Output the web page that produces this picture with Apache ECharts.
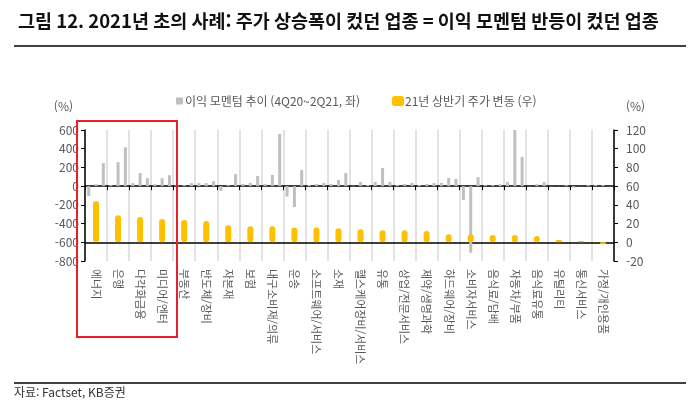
<!DOCTYPE html>
<html lang="ko">
<head>
<meta charset="UTF-8">
<title>그림 12</title>
<script src="https://cdn.jsdelivr.net/npm/echarts@6/dist/echarts.min.js"></script>
<style>
  html, body { margin: 0; padding: 0; background: #fff; }
  #main { width: 696px; height: 406px; }
</style>
</head>
<body>
<div id="main"></div>
<script>
// 업종
const categories = ['에너지', '은행', '다각화금융', '미디어/엔터', '부동산', '반도체/장비', '자본재', '보험',
  '내구소비재/의류', '운송', '소프트웨어/서비스', '소재', '헬스케어장비/서비스', '유통', '상업/전문서비스',
  '제약/생명과학', '하드웨어/장비', '소비자서비스', '음식료/담배', '자동차/부품', '음식료유통', '유틸리티',
  '통신서비스', '가정/개인용품'];

// 이익 모멘텀 추이 (좌, %) : 4Q20, 1Q21, 2Q21
const mom4Q20 = [-107, 11, 32, 21, 10, 32, -50, 23, 23, -112, 12, 23, 3, 45, 12, 12, 34, -149, 11, 43, 2, 2, -18, 11];
const mom1Q21 = [21, 256, 139, 85, 11, 32, 11, 34, 119, -224, 23, 66, 45, 194, 23, 23, 87, -712, 11, 600, 21, 2, 2, 11];
const mom2Q21 = [246, 416, 85, 117, 32, 53, 128, 108, 557, 172, 34, 140, 12, 45, 34, 34, 77, 96, 21, 312, 43, 11, 11, 2];

// 21년 상반기 주가 변동 (우, %)
const priceChg = [44, 29, 27, 24.9, 23.8, 22.7, 18.1, 17.1, 17.1, 15.9, 15.8, 15, 14, 12.9, 12.9, 12, 8.6, 8.5, 7.8, 7.8, 6.7, 2.5, 1.5, -2];

const leftTicks = [-800, 600, 200];
const rightTicks = [-20, 120, 20];

const FONT = '"Noto Sans CJK KR", "Noto Sans", sans-serif';
const GRAY = '#BFBFBF';
const YELLOW = '#FFC000';
const TXT = '#595959';

var myChart = echarts.init(document.getElementById('main'), null, { renderer: 'canvas' });

function grayBar(name, data) {
  return {
    name: name,
    type: 'bar',
    xAxisIndex: 0,
    yAxisIndex: 0,
    data: data,
    barWidth: 3,
    barGap: '144%',
    itemStyle: { color: GRAY },
    silent: true
  };
}

var option = {
  animation: false,
  textStyle: { fontFamily: FONT },
  title: {
    text: '그림 12. 2021년 초의 사례: 주가 상승폭이 컸던 업종 = 이익 모멘텀 반등이 컸던 업종',
    left: 13,
    top: 7,
    textStyle: { fontFamily: FONT, fontSize: 18.5, fontWeight: 'bold', color: '#111' }
  },
  legend: [
    {
      left: 171,
      top: 90,
      itemWidth: 7,
      itemHeight: 7,
      icon: 'rect',
      data: ['이익 모멘텀 추이 (4Q20~2Q21, 좌)'],
      textStyle: { fontFamily: FONT, fontSize: 12, color: TXT, padding: [0, 0, 0, -3] }
    },
    {
      left: 387,
      top: 90,
      itemWidth: 12,
      itemHeight: 10,
      icon: 'roundRect',
      data: ['21년 상반기 주가 변동 (우)'],
      textStyle: { fontFamily: FONT, fontSize: 12, color: TXT, padding: [0, 0, 0, -4] }
    }
  ],
  grid: { left: 85, right: 82, top: 130, bottom: 145 },
  xAxis: [
    {
      type: 'category',
      data: categories,
      axisLine: { onZero: true, onZeroAxisIndex: 0, lineStyle: { color: '#000', width: 1.5 } },
      axisTick: { show: true, interval: 0, length: 4, lineStyle: { color: '#000' } },
      axisLabel: { show: false },
      splitLine: { show: true, interval: 0, lineStyle: { color: '#D9D9D9', width: 1.5 } }
    },
    {
      type: 'category',
      data: categories,
      axisLine: { onZero: true, onZeroAxisIndex: 1, lineStyle: { color: '#000', width: 1.5 } },
      axisTick: { show: false },
      axisLabel: { show: false }
    },
    {
      type: 'category',
      data: categories,
      position: 'bottom',
      axisLine: { show: false, onZero: false },
      axisTick: { show: false },
      axisLabel: {
        interval: 0,
        rotate: -90,
        margin: 8,
        fontSize: 11,
        color: TXT,
        fontFamily: FONT
      }
    }
  ],
  yAxis: [
    {
      type: 'value',
      min: leftTicks[0],
      max: leftTicks[1],
      interval: leftTicks[2],
      name: '(%)',
      nameLocation: 'end',
      nameGap: 18,
      nameTextStyle: { fontFamily: FONT, fontSize: 12, color: TXT, align: 'right', padding: [0, 12, 0, 0] },
      axisLine: { show: true, onZero: false, lineStyle: { color: '#000', width: 1.5 } },
      axisTick: { show: true, length: 4, lineStyle: { color: '#000' } },
      axisLabel: { fontSize: 12, color: TXT, margin: 6, fontFamily: FONT },
      splitLine: { show: false }
    },
    {
      type: 'value',
      min: rightTicks[0],
      max: rightTicks[1],
      interval: rightTicks[2],
      name: '(%)',
      nameLocation: 'end',
      nameGap: 18,
      nameTextStyle: { fontFamily: FONT, fontSize: 12, color: TXT, align: 'left', padding: [0, 0, 0, 12] },
      axisLine: { show: true, onZero: false, lineStyle: { color: '#000', width: 1.5 } },
      axisTick: { show: true, length: 4, lineStyle: { color: '#000' } },
      axisLabel: { fontSize: 12, color: TXT, margin: 12, fontFamily: FONT },
      splitLine: { show: false }
    }
  ],
  series: [
    grayBar('이익 모멘텀 추이 (4Q20~2Q21, 좌)', mom4Q20),
    grayBar('이익 모멘텀 추이 (4Q20~2Q21, 좌)', mom1Q21),
    grayBar('이익 모멘텀 추이 (4Q20~2Q21, 좌)', mom2Q21),
    {
      name: '21년 상반기 주가 변동 (우)',
      type: 'bar',
      xAxisIndex: 1,
      yAxisIndex: 1,
      data: priceChg,
      barWidth: 6,
      itemStyle: { color: YELLOW, borderRadius: 3 },
      z: 3
    }
  ],
  graphic: [
    // 제목 아래 선
    { type: 'line', shape: { x1: 14, y1: 46, x2: 686, y2: 46 }, style: { stroke: '#000', lineWidth: 1.5 } },
    // 빨간 박스
    { type: 'rect', shape: { x: 77, y: 121, width: 100, height: 216 }, style: { fill: 'none', stroke: '#E8202A', lineWidth: 2 }, z: 10 },
    // 하단 선 + 출처
    { type: 'line', shape: { x1: 14, y1: 383, x2: 686, y2: 383 }, style: { stroke: '#000', lineWidth: 1.5 } },
    { type: 'text', left: 14, top: 386, style: { text: '자료: Factset, KB증권', font: '12px ' + FONT, fill: '#333' } }
  ]
};

option && myChart.setOption(option);
</script>
</body>
</html>
